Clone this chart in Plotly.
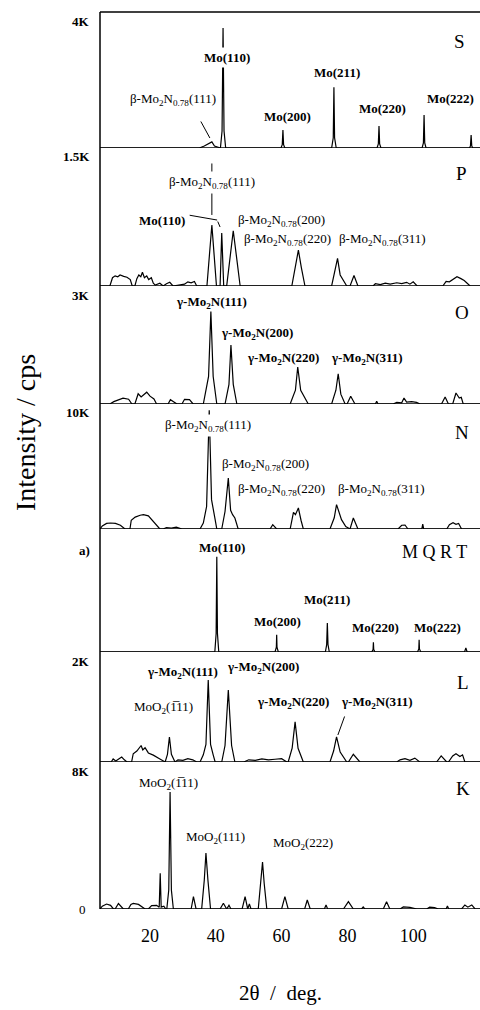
import plotly.graph_objects as go

FONT = "Liberation Serif, Times New Roman, serif"

# ---------------- data ----------------
X_RANGE = [4.8, 120.3]
X_TICKS = [20, 40, 60, 80, 100]

PANEL_NAMES = ["S", "P", "O", "N", "M Q R T", "L", "K"]
PANEL_TOP_LABELS = ["4K", "1.5K", "3K", "10K", "a)", "2K", "8K"]
PANEL_MAX = [4000, 1500, 3000, 10000, 1000, 2000, 8000]

S_PATTERN = [(4.8, 0), (35.0, 0), (36.5, 60), (37.8, 120), (38.8, 180), (39.6, 60), (41.4, 0),
             (41.9, 500), (42.2, 3530), (42.5, 500), (43.0, 0), (59.8, 0), (60.2, 100), (60.4, 530),
             (60.6, 100), (61.0, 0), (75.2, 0), (75.7, 300), (75.9, 1790), (76.1, 300), (76.6, 0),
             (89.0, 0), (89.4, 120), (89.6, 650), (89.8, 120), (90.2, 0), (102.7, 0), (103.1, 150),
             (103.3, 970), (103.5, 150), (103.9, 0), (117.1, 0), (117.4, 60), (117.6, 380),
             (117.8, 60), (118.1, 0), (120.3, 0)]

P_PATTERN = [(4.8, 0), (7.8, 0), (8.6, 90), (9.4, 110), (10.2, 100), (10.9, 120), (12.0, 105),
             (13.0, 95), (14.0, 70), (14.6, 0), (15.4, 0), (16.0, 80), (16.6, 120), (17.2, 100),
             (17.7, 150), (18.3, 90), (19.0, 110), (19.6, 70), (20.4, 90), (21.0, 30), (21.6, 10),
             (23.0, 30), (24.0, 0), (25.0, 25), (26.0, 40), (27.0, 0), (30.5, 20), (31.5, 45),
             (32.5, 35), (33.5, 50), (34.2, 0), (37.3, 0), (38.8, 663), (40.2, 0), (41.3, 0),
             (41.8, 576), (42.4, 0), (43.3, 0), (45.3, 600), (47.4, 0), (63.1, 0), (65.1, 390),
             (66.0, 200), (67.1, 0), (75.2, 0), (76.3, 200), (77.0, 300), (77.8, 120), (79.8, 0),
             (80.8, 0), (82.0, 115), (83.2, 0), (87.8, 0), (88.5, 25), (90.0, 15), (91.5, 30),
             (93.0, 20), (95.0, 35), (96.5, 25), (98.0, 40), (99.0, 20), (100.0, 45), (101.2, 0),
             (109.0, 0), (110.0, 50), (111.0, 45), (112.0, 70), (113.3, 100), (114.5, 80),
             (115.5, 60), (117.3, 0), (120.3, 0)]

O_PATTERN = [(4.8, 0), (7.8, 0), (9.0, 60), (10.5, 100), (11.8, 150), (13.5, 120), (14.5, 0),
             (15.4, 0), (16.4, 260), (17.3, 180), (19.0, 300), (20.0, 200), (21.2, 130), (22.0, 0),
             (25.5, 0), (26.2, 110), (27.0, 60), (28.2, 0), (29.7, 0), (30.5, 120), (32.0, 110),
             (33.1, 0), (36.2, 0), (37.8, 700), (38.5, 2350), (39.2, 700), (40.3, 0), (42.8, 0),
             (44.0, 500), (44.6, 1500), (45.3, 500), (46.4, 0), (62.6, 0), (64.2, 350),
             (64.9, 940), (65.8, 350), (68.1, 0), (75.2, 0), (76.5, 350), (77.2, 770), (78.0, 250),
             (79.3, 0), (79.9, 0), (81.0, 195), (82.3, 0), (88.5, 0), (88.9, 70), (89.3, 0),
             (93.9, 0), (95.0, 40), (96.5, 30), (97.2, 150), (98.0, 50), (99.5, 60), (101.0, 40),
             (102.1, 0), (108.6, 0), (109.7, 180), (110.7, 0), (112.0, 0), (113.0, 280),
             (114.0, 150), (114.6, 170), (115.2, 0), (120.3, 0)]

N_PATTERN = [(4.8, 0), (5.5, 250), (6.8, 450), (8.0, 480), (9.5, 450), (11.0, 300), (12.4, 0),
             (13.9, 0), (14.3, 700), (15.5, 950), (17.0, 1100), (18.0, 1150), (19.5, 1050),
             (21.0, 600), (23.0, 0), (24.0, 0), (25.0, 120), (26.5, 80), (28.0, 150), (29.7, 0),
             (35.2, 0), (36.2, 480), (37.2, 1800), (38.0, 9500), (38.7, 2350), (39.8, 750),
             (40.3, 0), (41.8, 0), (42.8, 1400), (43.8, 4080), (44.5, 1500), (45.1, 1150),
             (45.8, 880), (46.8, 0), (56.5, 0), (57.3, 350), (58.5, 0), (62.6, 0), (63.6, 1330),
             (64.2, 1150), (65.1, 1680), (65.9, 700), (66.6, 0), (74.7, 0), (76.0, 900),
             (76.7, 1950), (78.2, 750), (79.5, 200), (80.8, 0), (81.8, 880), (83.2, 0), (95.4, 0),
             (96.5, 300), (97.5, 320), (98.4, 0), (102.6, 0), (102.9, 400), (103.2, 0), (110.2, 0),
             (111.0, 350), (112.1, 500), (113.0, 380), (113.8, 450), (114.7, 0), (120.3, 0)]

MQRT_PATTERN = [(4.8, 0), (39.7, 0), (40.1, 150), (40.3, 775), (40.5, 150), (40.9, 0), (58.0, 0),
                (58.4, 40), (58.5, 140), (58.6, 40), (59.0, 0), (73.3, 0), (73.7, 60), (73.9, 236),
                (74.1, 60), (74.5, 0), (87.4, 0), (87.8, 20), (87.9, 80), (88.0, 20), (88.4, 0),
                (101.3, 0), (101.7, 25), (101.8, 100), (101.9, 25), (102.3, 0), (115.6, 0),
                (116.0, 33), (116.4, 0), (120.3, 0)]

L_PATTERN = [(4.8, 0), (8.2, 0), (8.8, 55), (9.6, 20), (10.6, 60), (11.4, 90), (12.2, 40), (13.0, 0),
             (14.4, 0), (14.9, 150), (16.0, 200), (17.3, 300), (17.8, 220), (18.5, 260), (19.5, 165),
             (21.0, 125), (23.0, 55), (24.6, 0), (25.3, 140), (25.9, 455), (26.5, 140), (27.6, 0),
             (28.5, 40), (30.0, 30), (31.5, 60), (33.0, 40), (34.2, 0), (35.2, 0), (36.2, 130),
             (37.0, 320), (37.7, 1490), (38.4, 320), (39.2, 130), (39.8, 0), (41.8, 0), (42.8, 300),
             (43.8, 1310), (44.8, 300), (45.8, 0), (48.5, 0), (50.0, 40), (52.0, 30), (54.0, 55),
             (56.0, 40), (58.0, 50), (60.0, 60), (61.6, 0), (62.0, 0), (63.2, 250), (64.1, 730),
             (65.0, 250), (66.6, 0), (74.7, 0), (75.8, 200), (76.7, 455), (77.8, 180), (79.8, 0),
             (80.3, 0), (81.8, 140), (83.8, 0), (95.0, 0), (96.0, 40), (97.5, 60), (99.0, 30),
             (100.5, 70), (102.0, 0), (107.1, 0), (108.5, 110), (110.2, 0), (110.7, 0), (112.0, 110),
             (113.0, 150), (114.2, 100), (115.0, 130), (115.7, 0), (120.3, 0)]

K_PATTERN = [(4.8, 0), (5.5, 150), (6.8, 270), (8.0, 200), (8.9, 0), (9.4, 0), (10.4, 300), (11.9, 0),
             (13.4, 0), (14.2, 250), (14.9, 300), (16.5, 250), (18.5, 0), (19.5, 0), (20.5, 180),
             (22.0, 200), (22.8, 100), (23.1, 1940), (23.4, 100), (24.2, 150), (24.8, 0), (25.1, 0),
             (25.7, 1030), (26.1, 6370), (26.5, 1030), (27.1, 0), (32.5, 0), (33.2, 670), (34.0, 0),
             (35.7, 0), (36.5, 1580), (37.0, 3050), (37.6, 1580), (38.4, 0), (41.3, 0), (42.3, 310),
             (43.3, 0), (44.0, 200), (44.6, 0), (48.0, 0), (48.9, 670), (49.7, 0), (50.2, 270),
             (50.7, 0), (52.9, 0), (53.7, 1400), (54.2, 2560), (54.7, 1400), (55.5, 0), (60.0, 0),
             (61.0, 670), (62.0, 0), (67.0, 0), (67.8, 490), (68.7, 0), (73.0, 0), (73.5, 220),
             (74.0, 0), (78.8, 0), (80.3, 400), (81.8, 0), (84.3, 0), (84.8, 110), (85.3, 0),
             (90.9, 0), (91.9, 400), (92.9, 0), (96.0, 0), (97.0, 110), (99.0, 90), (101.1, 0),
             (104.1, 0), (105.0, 100), (106.5, 80), (107.6, 0), (110.0, 0), (110.4, 160), (110.8, 0),
             (114.7, 0), (115.7, 220), (116.6, 100), (117.8, 220), (118.8, 0), (120.3, 0)]

PATTERNS = [S_PATTERN, P_PATTERN, O_PATTERN, N_PATTERN, MQRT_PATTERN, L_PATTERN, K_PATTERN]

BETA = "β-Mo<sub>2</sub>N<sub>0.78</sub>"
GAMMA = "<b>γ-Mo<sub>2</sub>N</b>"
MOO2 = "MoO<sub>2</sub>"
BAR_ONE = "1\u0305"

# ---------------- layout ----------------
EDGES_PX = [12, 148, 286, 404, 529, 652, 762, 909]
TOP_PX, BOT_PX = EDGES_PX[0], EDGES_PX[-1]
H = BOT_PX - TOP_PX


def yname(p):
    return "y" if p == 1 else f"y{p}"


fig = go.Figure()
for i, pat in enumerate(PATTERNS):
    xs = [p[0] for p in pat]
    ys = [p[1] for p in pat]
    fig.add_trace(go.Scatter(x=xs, y=ys, mode="lines", xaxis="x", yaxis=yname(i + 1),
                             line=dict(color="black", width=1.2), showlegend=False,
                             hoverinfo="skip"))

layout = dict(
    width=480, height=1010,
    margin=dict(l=100, r=0, t=TOP_PX, b=1010 - BOT_PX),
    paper_bgcolor="white", plot_bgcolor="white",
    font=dict(family=FONT, color="black"),
    xaxis=dict(range=X_RANGE, tickvals=X_TICKS, ticks="", showline=False, showgrid=False,
               zeroline=False, anchor="y7", tickfont=dict(size=18, family=FONT),
               ticklabelstandoff=14),
)
for i in range(7):
    y0 = (BOT_PX - EDGES_PX[i + 1]) / H
    y1 = (BOT_PX - EDGES_PX[i]) / H
    layout[f"yaxis{i + 1}" if i else "yaxis"] = dict(
        domain=[y0, y1], range=[0, PANEL_MAX[i]], showticklabels=False, showgrid=False,
        zeroline=False, showline=False, ticks="", anchor="x")
fig.update_layout(**layout)

shapes = []
shapes.append(dict(type="line", xref="paper", yref="paper", x0=0, x1=1, y0=1, y1=1,
                   line=dict(color="black", width=1.5)))
shapes.append(dict(type="line", xref="paper", yref="paper", x0=0, x1=0, y0=0, y1=1,
                   line=dict(color="black", width=1.5)))
for i in range(7):
    shapes.append(dict(type="line", xref="paper", yref=yname(i + 1), x0=0, x1=1, y0=0, y1=0,
                       line=dict(color="black", width=1.5)))
fig.update_layout(shapes=shapes)

ann = []


def lab(text, x, y, panel, size=13, bg=None):
    d = dict(text=text, x=x, y=y, xref="x", yref=yname(panel), showarrow=False,
             font=dict(size=size, family=FONT, color="black"), xanchor="center", yanchor="middle")
    if bg:
        d.update(bgcolor=bg, borderpad=2)
    ann.append(d)


def leader(x0, y0, x1, y1, panel):
    ann.append(dict(text="", x=x1, y=y1, ax=x0, ay=y0, xref="x", yref=yname(panel),
                    axref="x", ayref=yname(panel), showarrow=True, arrowhead=0,
                    arrowwidth=1, arrowcolor="black"))


for i, t in enumerate(PANEL_TOP_LABELS):
    shift = -21 if t == "a)" else -9
    ann.append(dict(text=f"<b>{t}</b>", xref="paper", x=0, xanchor="right", xshift=-8,
                    yref=f"{yname(i + 1)} domain", y=1, yanchor="middle", yshift=shift,
                    showarrow=False, font=dict(size=13, family=FONT)))
ann.append(dict(text="0", xref="paper", x=0, xanchor="right", xshift=-12, yref="y7", y=0,
                yanchor="middle", showarrow=False, font=dict(size=13, family=FONT)))

name_pos = [(114.2, 3118), (114.8, 1228), (114.8, 2339), (114.8, 7680), (106.6, 813),
            (115.1, 1454), (115.1, 6585)]
for i, (nx, ny) in enumerate(name_pos):
    lab(PANEL_NAMES[i], nx, ny, i + 1, size=19 if i != 4 else 18)

# S
lab("<b>Mo(110)</b>", 43.4, 2676, 1, bg="white")
lab(BETA + "(111)", 27.0, 1412, 1)
leader(35.2, 824, 38.2, 294, 1)
lab("<b>Mo(200)</b>", 61.9, 912, 1)
lab("<b>Mo(211)</b>", 76.8, 2235, 1)
lab("<b>Mo(220)</b>", 90.8, 1176, 1)
lab("<b>Mo(222)</b>", 111.2, 1470, 1)
# P
leader(38.8, 1348, 38.8, 772, 2)
lab(BETA + "(111)", 38.8, 1120, 2, bg="white")
lab("<b>Mo(110)</b>", 23.6, 717, 2)
leader(31.6, 772, 40.4, 717, 2)
leader(40.4, 717, 41.3, 641, 2)
lab(BETA + "(200)", 60.1, 717, 2)
lab(BETA + "(220)", 61.9, 500, 2)
lab(BETA + "(311)", 90.8, 500, 2)
# O
lab(GAMMA + "<b>(111)</b>", 38.8, 2593, 3)
lab(GAMMA + "<b>(200)</b>", 52.5, 1805, 3)
lab(GAMMA + "<b>(220)</b>", 60.4, 1169, 3)
lab(GAMMA + "<b>(311)</b>", 86.0, 1169, 3)
# N
lab(BETA + "(111)", 37.6, 8240, 4, bg="white")
lab(BETA + "(200)", 55.0, 5120, 4)
lab(BETA + "(220)", 60.1, 3120, 4)
lab(BETA + "(311)", 90.5, 3120, 4)
# MQRT
lab("<b>Mo(110)</b>", 41.9, 846, 5)
lab("<b>Mo(200)</b>", 58.6, 244, 5)
lab("<b>Mo(211)</b>", 73.8, 423, 5)
lab("<b>Mo(220)</b>", 88.4, 203, 5)
lab("<b>Mo(222)</b>", 107.5, 203, 5)
# L
lab(GAMMA + "<b>(111)</b>", 30.0, 1636, 6)
lab(GAMMA + "<b>(200)</b>", 54.3, 1727, 6)
lab(MOO2 + "(" + BAR_ONE + "11)", 24.0, 982, 6)
lab(GAMMA + "<b>(220)</b>", 63.5, 1073, 6)
lab(GAMMA + "<b>(311)</b>", 89.0, 1073, 6)
leader(79.3, 855, 77.1, 491, 6)
# K
lab(MOO2 + "(" + BAR_ONE + "11)", 25.5, 6857, 7)
lab(MOO2 + "(111)", 39.8, 3918, 7)
lab(MOO2 + "(222)", 66.5, 3592, 7)

ann.append(dict(text="Intensity / cps", xref="paper", yref="paper", x=(25 - 100) / 380,
                y=(BOT_PX - 433) / H, textangle=-90, showarrow=False, xanchor="center",
                yanchor="middle", font=dict(size=28, family=FONT)))
ann.append(dict(text="2θ  /  deg.", xref="paper", yref="paper", x=(280 - 100) / 380,
                y=(BOT_PX - 993) / H, showarrow=False, xanchor="center", yanchor="middle",
                font=dict(size=21, family=FONT)))

fig.update_layout(annotations=ann)
fig.write_html("out.html")
